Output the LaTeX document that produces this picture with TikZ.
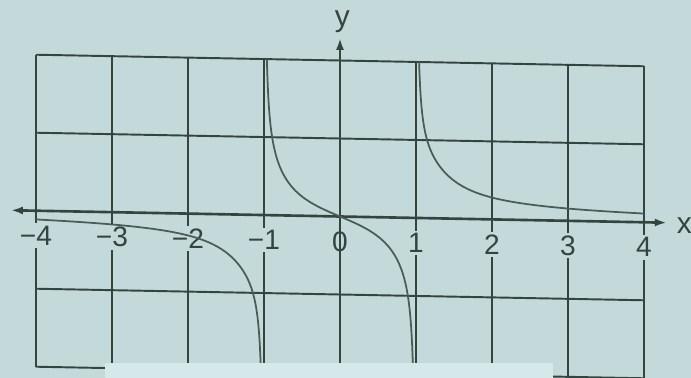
\documentclass[tikz,border=0pt]{standalone}
\usepackage{fontspec}
\setmainfont{Liberation Sans}
\usepackage{tikz}
\usetikzlibrary{arrows.meta}
\definecolor{paper}{HTML}{C4D9DA}
\definecolor{patch}{HTML}{D5E8EA}
\definecolor{ink}{HTML}{34443F}
\definecolor{pencil}{HTML}{4B5C56}

\begin{document}
\begin{tikzpicture}[every node/.style={font=\fontsize{16}{18}\selectfont, text=ink}, grid/.style={ink, line width=1.1pt}, axis/.style={ink, line width=1.5pt}, tick/.style={fill=paper, inner sep=1.5pt}, curve/.style={pencil, line width=1pt},
  declare function={g(\t)=0.42-0.32*exp(-abs(\t*\t-1)/0.4); f(\t)=\t*g(\t)/(\t*\t-1);}]
\fill[paper] (-6.8,-3.23) rectangle (7.02,4.33);
\useasboundingbox (-6.8,-3.23) rectangle (7.02,4.33);
\begin{scope}[x=1.52cm, y=1.56cm, yslant=-0.019]
% grid
\draw[grid] (-4,2)--(4,2);\draw[grid] (-4,1)--(4,1);\draw[grid] (-4,-1)--(4,-1);\draw[grid] (-4,-2)--(4,-2);
\draw[grid] (-4,-2)--(-4,2);\draw[grid] (-3,-2)--(-3,2);\draw[grid] (-2,-2)--(-2,2);\draw[grid] (-1,-2)--(-1,2);
\draw[grid] (1,-2)--(1,2);\draw[grid] (2,-2)--(2,2);\draw[grid] (3,-2)--(3,2);\draw[grid] (4,-2)--(4,2);
% axes
\coordinate (xl) at (-4.33,0);\coordinate (xr) at (4.3,0);\coordinate (yb) at (0,-2.2);\coordinate (yt) at (0,2.29);
\draw[axis, {Latex[length=2.4mm,width=1.6mm]}-{Latex[length=2.4mm,width=1.6mm]}] (xl)--(xr);
\draw[axis, -{Latex[length=2.4mm,width=1.6mm]}] (yb)--(yt);
\node[font=\fontsize{17}{19}\selectfont] (lx) at (4.53,-0.03) {x};\node[font=\fontsize{17}{19}\selectfont, inner sep=0pt] (ly) at (0.03,2.5) {y};
% tick labels
\node[tick] (m4) at (-4,-0.32) {−4};\node[tick] (m3) at (-3,-0.32) {−3};\node[tick] (m2) at (-2,-0.32) {−2};\node[tick] (m1) at (-1,-0.32) {−1};
\node[inner sep=1pt] (z0) at (0,-0.32) {0};
\node[tick] (p1) at (1,-0.32) {1};\node[tick] (p2) at (2,-0.32) {2};\node[tick] (p3) at (3,-0.32) {3};\node[tick] (p4) at (4,-0.32) {4};
% the three branches
\begin{scope}
\clip (-4.5,-2.2) rectangle (4.5,2);
\draw[curve] plot[domain=-4:-1.03, samples=300, smooth] (\x,{f(\x)});
\draw[curve] plot[domain=-0.965:0.97, samples=300, smooth] (\x,{f(\x)});
\draw[curve] plot[domain=1.035:4, samples=300, smooth] (\x,{f(\x)});
\end{scope}
\end{scope}
\fill[patch] (-4.7,-3.23) rectangle (4.26,-2.93);
\end{tikzpicture}
\end{document}
